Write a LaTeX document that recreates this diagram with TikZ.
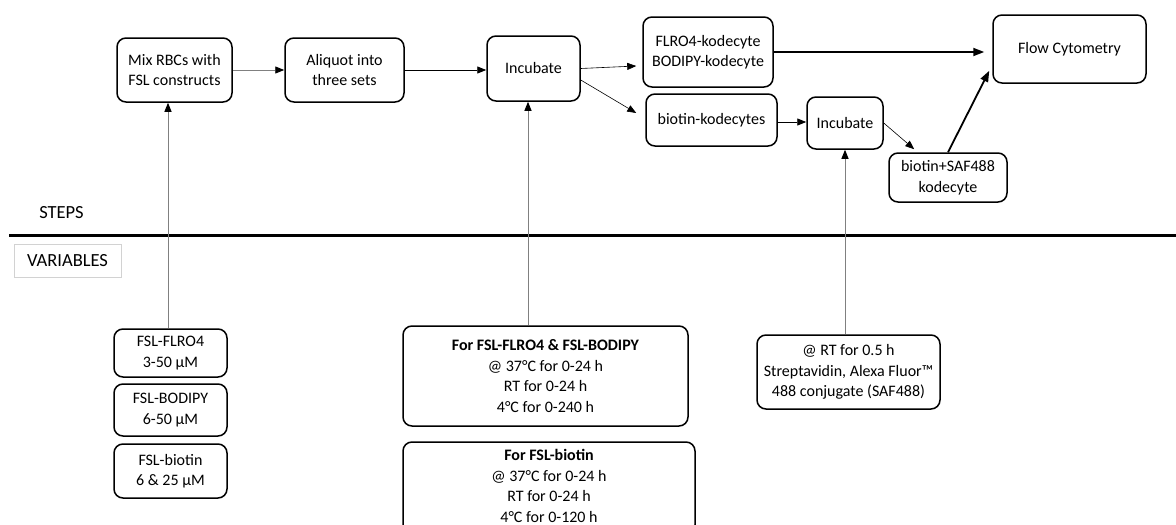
\documentclass[tikz,border=0pt]{standalone}
\usepackage{fontspec}
\setmainfont{Carlito}
\usetikzlibrary{arrows.meta}
\begin{document}
\begin{tikzpicture}[x=1pt,y=-1pt,
  box/.style={draw, line width=1.5pt, rounded corners=9pt, inner sep=0pt, align=center, font=\fontsize{16}{20.5}\selectfont},
  plain/.style={inner sep=0pt, align=center, font=\fontsize{16}{20.5}\selectfont},
  side/.style={inner sep=0pt, align=center, font=\fontsize{18.5}{22}\selectfont},
  arr/.style={-{Triangle[length=9pt,width=7pt]}, line width=0.8pt},
  garr/.style={draw=gray, line width=0.9pt, -{Triangle[length=9pt,width=7pt,color=black]}},
  thickarr/.style={-{Triangle[length=11pt,width=8pt]}, line width=1.8pt}]
\useasboundingbox (0,0) rectangle (1176,525);

% steps
\node[box, minimum width=115pt, minimum height=64pt] (mix) at (174.5,70) {Mix RBCs with\\FSL constructs};
\node[box, minimum width=119pt, minimum height=64pt] (aliq) at (344.5,70) {Aliquot into\\three sets};
\node[box, minimum width=93pt, minimum height=65pt] (inc1) at (533.5,68.5) {Incubate};
\node[box, minimum width=130pt, minimum height=70pt] (flro) at (708,52) {FLRO4-kodecyte\\BODIPY-kodecyte};
\node[box, minimum width=131pt, minimum height=52pt] (biok) at (711.5,120) {biotin-kodecytes};
\node[box, minimum width=76pt, minimum height=52pt] (inc2) at (845,123) {Incubate};
\node[box, minimum width=118pt, minimum height=49pt] (saf) at (948,177.5) {biotin+SAF488\\kodecyte};
\node[box, minimum width=153pt, minimum height=68pt] (flow) at (1069.5,49) {Flow Cytometry};

% separator and labels
\coordinate (sepL) at (9,235);
\coordinate (sepR) at (1176,235);
\draw[line width=3pt] (sepL) -- (sepR);
\node[side] (steps) at (61.5,213) {STEPS};
\node[side, draw=gray!35, line width=0.6pt, minimum width=107pt, minimum height=33pt] (vars) at (67.5,260.5) {VARIABLES};

% variables
\node[box, minimum width=113pt, minimum height=48pt] (v1) at (170.5,353) {FSL-FLRO4\\3-50 µM};
\node[box, minimum width=113pt, minimum height=52pt] (v2) at (170.5,410) {FSL-BODIPY\\6-50 µM};
\node[box, minimum width=113pt, minimum height=54pt] (v3) at (170.5,471) {FSL-biotin\\6 \& 25 µM};
\node[box, minimum width=285pt, minimum height=100pt] (b1) at (545.5,376) {\textbf{For FSL-FLRO4 \& FSL-BODIPY}\\@ 37°C for 0-24 h\\RT for 0-24 h\\4°C for 0-240 h};
\node[box, minimum width=292pt, minimum height=92pt] (b2) at (549,488) {};
\node[plain] (b2t) at (549,486) {\textbf{For FSL-biotin}\\@ 37°C for 0-24 h\\RT for 0-24 h\\4°C for 0-120 h};
\node[box, minimum width=183pt, minimum height=74pt] (saft) at (848.5,372) {@ RT for 0.5 h\\Streptavidin, Alexa Fluor™\\488 conjugate (SAF488)};

% connectors
\draw[garr] (mix.east) -- (aliq.west);
\draw[arr] (aliq.east) -- (aliq.east -| inc1.west);
\draw[arr, line width=0.6pt] (inc1.east) -- ([xshift=-6pt,yshift=-14pt]flro.west);
\draw[arr, line width=0.6pt] ([yshift=-11.5pt]inc1.east) -- ([xshift=-9pt,yshift=7pt]biok.west);
\draw[arr] ([yshift=-2pt]biok.east) -- ([yshift=-2pt]biok.east -| inc2.west);
\draw[arr, line width=0.6pt] (inc2.east) -- ([xshift=26pt,yshift=3pt]saf.north west);
\draw[thickarr] (flro.east) -- ([xshift=-8pt]flro.east -| flow.west);
\draw[thickarr] (saf.north) -- ([xshift=-3pt,yshift=13pt]flow.south west);

\draw[garr] ([xshift=-2.5pt]v1.north) -- ([xshift=-2.5pt]v1.north |- mix.south);
\draw[garr] ([xshift=-5.5pt]inc1.south |- b1.north) -- ([xshift=-5.5pt]inc1.south);
\draw[garr] (inc2.south |- saft.north) -- (inc2.south);
\end{tikzpicture}
\end{document}
